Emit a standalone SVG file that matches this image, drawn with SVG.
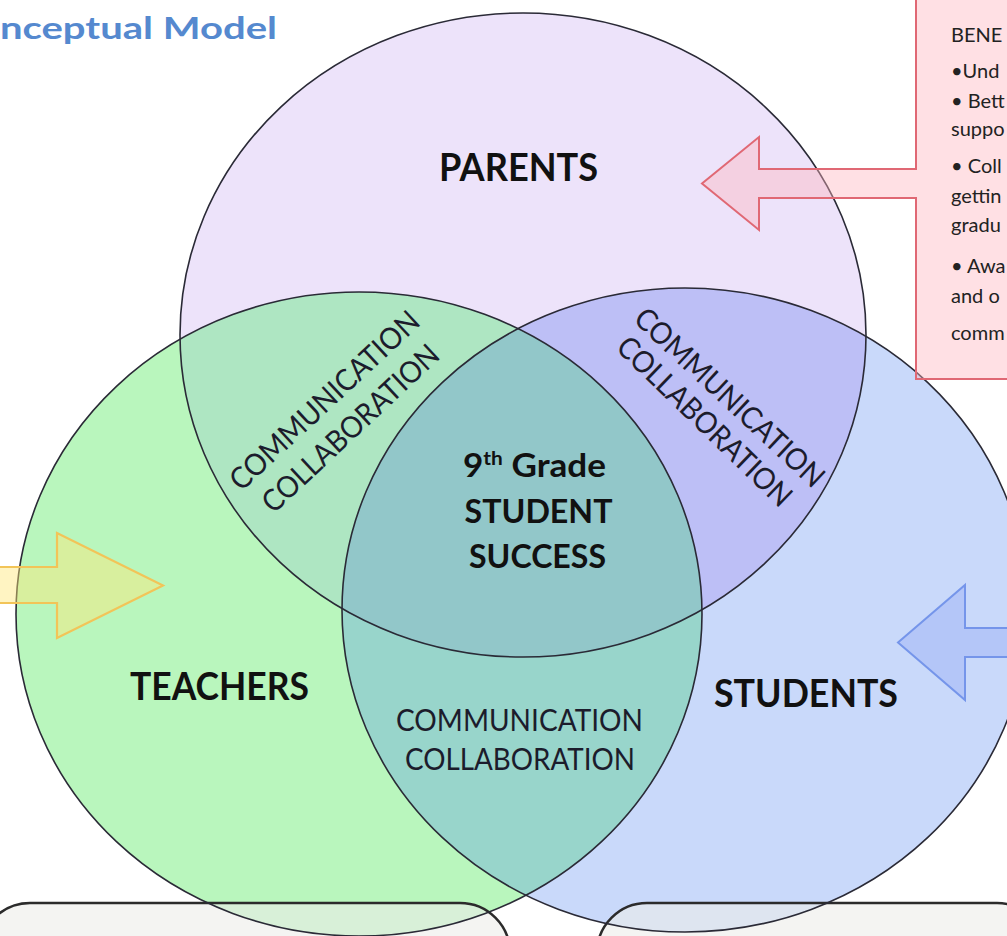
<svg xmlns="http://www.w3.org/2000/svg" width="1007" height="936" viewBox="0 0 1007 936">
<style>
.lbl{font-family:Lato,"Open Sans","Liberation Sans",sans-serif;font-weight:700;fill:#111;text-anchor:middle}
.cc{font-family:Lato,"Open Sans","Liberation Sans",sans-serif;font-weight:400;fill:#1c1c2c;text-anchor:middle;font-size:30px}
.box{font-family:Lato,"Open Sans","Liberation Sans",sans-serif;fill:#222;font-size:20px}
.outline{fill:none;stroke:#2a2a36;stroke-width:1.6}
.panel{fill:#EDEDE9;fill-opacity:0.6;stroke:#2b2b2b;stroke-width:2.5}
</style>
<defs>
<ellipse id="eP" cx="523" cy="335" rx="343" ry="322"/>
<ellipse id="eT" cx="359" cy="614" rx="343" ry="322"/>
<ellipse id="eS" cx="685" cy="610" rx="343" ry="322"/>
<clipPath id="cP"><use href="#eP"/></clipPath>
<clipPath id="cT"><use href="#eT"/></clipPath>
</defs>
<rect width="1007" height="936" fill="#fff"/>

<!-- fills -->
<g id="fills">
<use href="#eP" fill="#EDE3FA"/>
<use href="#eT" fill="#B9F6BD"/>
<use href="#eS" fill="#C9D9FA"/>
<use href="#eT" fill="#AEE6C2" clip-path="url(#cP)"/>
<use href="#eS" fill="#BDBFF6" clip-path="url(#cP)"/>
<use href="#eS" fill="#98D5CB" clip-path="url(#cT)"/>
<g clip-path="url(#cP)"><use href="#eS" fill="#92C7C9" clip-path="url(#cT)"/></g>
</g>

<!-- bottom panels -->
<g id="panels">
<rect class="panel" x="-20" y="903" width="530" height="100" rx="50"/>
<rect class="panel" x="597" y="903" width="450" height="100" rx="50"/>
</g>

<g id="parents">
<use href="#eP" class="outline"/>
<text class="lbl" x="518.5" y="181" font-size="38" textLength="159" lengthAdjust="spacingAndGlyphs">PARENTS</text>
</g>
<g id="teachers">
<use href="#eT" class="outline"/>
<text class="lbl" x="219.5" y="700" font-size="38" textLength="179" lengthAdjust="spacingAndGlyphs">TEACHERS</text>
</g>
<g id="students">
<use href="#eS" class="outline"/>
<text class="lbl" x="806" y="707" font-size="38" textLength="184" lengthAdjust="spacingAndGlyphs">STUDENTS</text>
</g>

<g id="center">
<text class="lbl" x="534.5" y="477" font-size="32" textLength="143" lengthAdjust="spacingAndGlyphs">9<tspan font-size="19" dy="-12">th</tspan><tspan dy="12"> Grade</tspan></text>
<text class="lbl" x="538.5" y="523" font-size="32" textLength="148" lengthAdjust="spacingAndGlyphs">STUDENT</text>
<text class="lbl" x="537.5" y="568" font-size="32" textLength="137" lengthAdjust="spacingAndGlyphs">SUCCESS</text>
</g>

<g id="overlap-parents-teachers">
<g transform="translate(324,400) rotate(-43)"><text class="cc" x="0" y="11" textLength="247" lengthAdjust="spacingAndGlyphs">COMMUNICATION</text></g>
<g transform="translate(350,428) rotate(-43)"><text class="cc" x="0" y="11" textLength="230" lengthAdjust="spacingAndGlyphs">COLLABORATION</text></g>
</g>
<g id="overlap-parents-students">
<g transform="translate(730,397) rotate(43)"><text class="cc" x="0" y="11" textLength="247" lengthAdjust="spacingAndGlyphs">COMMUNICATION</text></g>
<g transform="translate(705,421) rotate(44)"><text class="cc" x="0" y="11" textLength="230" lengthAdjust="spacingAndGlyphs">COLLABORATION</text></g>
</g>
<g id="overlap-teachers-students">
<text class="cc" x="519.5" y="731" textLength="247" lengthAdjust="spacingAndGlyphs">COMMUNICATION</text>
<text class="cc" x="520" y="770" textLength="230" lengthAdjust="spacingAndGlyphs">COLLABORATION</text>
</g>

<g id="connectors">
<path d="M-10,567 L57,567 L57,533 L163,585.5 L57,638 L57,603 L-10,603 Z" fill="#FFE678" fill-opacity="0.45" stroke="#F2C458" stroke-width="2.2" stroke-linejoin="miter"/>
<path d="M1020,628 L965,628 L965,585 L898,642.5 L965,700 L965,657 L1020,657 Z" fill="#96AAF5" fill-opacity="0.4" stroke="#7595EA" stroke-width="2"/>
</g>

<g id="benefits">
<path d="M916,-5 L1020,-5 L1020,379 L916,379 L916,198 L759,198 L759,230 L702,183.5 L759,137 L759,169 L916,169 Z" fill="#FFB4BE" fill-opacity="0.42" stroke="#E06874" stroke-width="2"/>
<text class="box" x="951" y="42" font-size="23">BENE</text>
<text class="box" x="951" y="78">•Und</text>
<text class="box" x="951" y="108">• Bett</text>
<text class="box" x="951" y="136">suppo</text>
<text class="box" x="951" y="173">• Coll</text>
<text class="box" x="951" y="203">gettin</text>
<text class="box" x="951" y="232">gradu</text>
<text class="box" x="951" y="273">• Awa</text>
<text class="box" x="951" y="303">and o</text>
<text class="box" x="951" y="340">comm</text>
</g>

<g id="title">
<text x="0" y="39" font-family="Lato,'Open Sans','Liberation Sans',sans-serif" font-weight="700" font-size="31" fill="#5589CF" textLength="277" lengthAdjust="spacingAndGlyphs">nceptual Model</text>
</g>
</svg>
